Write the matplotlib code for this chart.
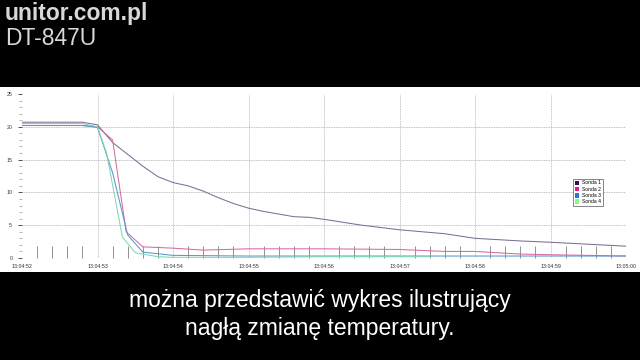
import matplotlib
matplotlib.use("Agg")
import matplotlib.pyplot as plt
from matplotlib.patches import Rectangle, Patch
from matplotlib.ticker import MultipleLocator

# czas w sekundach od 13:04:52
tick_labels = ["13:04:52", "13:04:53", "13:04:54", "13:04:55", "13:04:56",
               "13:04:57", "13:04:58", "13:04:59", "13:05:00"]

t1 = [0, 0.4, 0.8, 1.0, 1.2, 1.4, 1.6, 1.8, 2.0, 2.2, 2.4, 2.6, 2.8, 3.0, 3.2,
      3.6, 3.8, 4.0, 4.5, 5.0, 5.6, 6.0, 6.6, 7.0, 7.5, 8.0]
s1 = [20.7, 20.7, 20.7, 20.3, 17.6, 15.8, 14.0, 12.4, 11.5, 11.0, 10.2, 9.2, 8.3,
      7.6, 7.1, 6.3, 6.2, 5.9, 5.0, 4.3, 3.7, 3.0, 2.6, 2.4, 2.1, 1.8]

t2 = [0, 0.8, 1.0, 1.2, 1.38, 1.6, 2.0, 2.4, 3.0, 4.0, 5.0, 5.6, 6.0, 6.6, 7.0, 8.0]
s2 = [20.2, 20.2, 20.0, 18.0, 4.0, 1.7, 1.5, 1.2, 1.4, 1.4, 1.3, 1.0, 1.0, 0.6, 0.5, 0.3]

t3 = [0, 0.8, 1.0, 1.2, 1.4, 1.6, 2.0, 3.0, 4.0, 5.0, 6.0, 7.0, 8.0]
s3 = [20.2, 20.2, 19.9, 13.0, 3.5, 0.9, 0.4, 0.3, 0.3, 0.3, 0.3, 0.3, 0.3]

t4 = [0, 0.8, 1.0, 1.12, 1.22, 1.33, 1.5, 1.8, 2.0, 3.0, 4.0, 5.0, 5.4]
s4 = [20.5, 20.5, 20.0, 16.0, 9.9, 3.2, 0.8, 0.2, 0.1, 0.1, 0.2, 0.2, 0.2]

names = ["Sonda 1", "Sonda 2", "Sonda 3", "Sonda 4"]
colours = ["#3a0a5c", "#e0207f", "#2878d4", "#80ff80"]
line_colours = ["#7d6e98", "#d66aa3", "#5a96c8", "#7cd8b4"]

plt.rcParams["font.family"] = ["Liberation Sans", "DejaVu Sans"]

fig = plt.figure(figsize=(6.4, 3.6), dpi=100, facecolor="black")

# biale tlo wykresu
fig.patches.append(Rectangle((0, 1 - 272 / 360), 1, 185 / 360,
                             transform=fig.transFigure, facecolor="white",
                             edgecolor="none", zorder=-5))

ax = fig.add_axes([22 / 640, 1 - 258 / 360, 604 / 640, 164 / 360])
ax.set_zorder(2)
ax.set_facecolor("white")
for sp in ax.spines.values():
    sp.set_visible(False)

for t, s, c in zip([t1, t2, t3, t4], [s1, s2, s3, s4], line_colours):
    ax.plot(t, s, color=c, lw=0.75)

ax.set_xlim(0, 8)
ax.set_ylim(0, 25)
ax.set_xticks(range(9))
ax.set_xticklabels(tick_labels)
ax.xaxis.set_minor_locator(MultipleLocator(0.2))
ax.set_yticks([0, 5, 10, 15, 20, 25])
ax.yaxis.set_minor_locator(MultipleLocator(1))
ax.tick_params(axis="x", which="major", length=0, labelsize=3.8, pad=4, colors="#333333")
ax.tick_params(axis="x", which="minor", direction="in", length=9, width=0.6, color="#808080")
ax.tick_params(axis="y", which="major", length=3, width=0.6, labelsize=3.8, pad=4, colors="#333333")
ax.tick_params(axis="y", which="minor", length=2, width=0.5, color="#999999")

for v in [5, 10, 15, 20]:
    ax.axhline(v, color="#aaaaaa", lw=0.6, ls=(0, (1, 1)), zorder=0)
for x in range(1, 9):
    ax.axvline(x, color="#b0b0b0", lw=0.6, ls=(0, (1, 1)), zorder=0)

handles = [Patch(facecolor=c, edgecolor="none") for c in colours]
leg = ax.legend(handles, names, loc="upper left", bbox_to_anchor=(0.908, 0.5),
                fontsize=3.6, handlelength=0.9, handleheight=1.0, handletextpad=0.5,
                labelspacing=0.25, borderpad=0.4, fancybox=False, framealpha=1)
leg.get_frame().set_edgecolor("#555555")
leg.get_frame().set_linewidth(0.5)

fig.text(0.008, 0.962, "unitor.com.pl", color="#d8d8d8", fontsize=16.5,
         fontweight="bold", va="center", ha="left")
fig.text(0.008, 0.893, "DT-847U", color="#d8d8d8", fontsize=16.5,
         va="center", ha="left")
fig.text(0.5, 1 - 301 / 360, "można przedstawić wykres ilustrujący", color="white",
         fontsize=16.5, ha="center", va="center")
fig.text(0.5, 1 - 328 / 360, "nagłą zmianę temperatury.", color="white",
         fontsize=16.5, ha="center", va="center")

fig.savefig("out.png", dpi=100, facecolor="black")
